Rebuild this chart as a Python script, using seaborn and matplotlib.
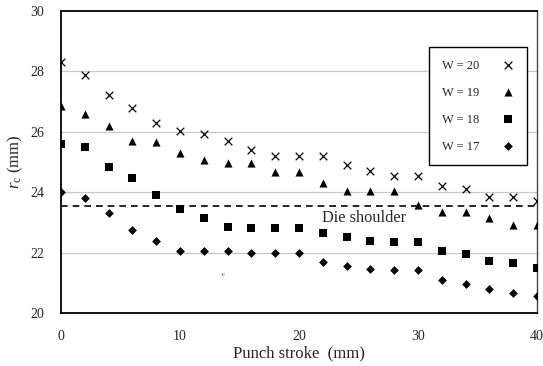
import matplotlib
matplotlib.use("Agg")
import matplotlib.pyplot as plt
import pandas as pd
import seaborn as sns

stroke = list(range(0, 42, 2))
labels = ["W = 20", "W = 19", "W = 18", "W = 17"]
w20 = [28.3, 27.88, 27.22, 26.79, 26.29, 26.03, 25.93, 25.7, 25.4, 25.2, 25.2,
       25.2, 24.9, 24.7, 24.54, 24.54, 24.2, 24.1, 23.84, 23.84, 23.7]
w19 = [26.85, 26.6, 26.2, 25.7, 25.66, 25.3, 25.07, 24.97, 24.97, 24.67, 24.67,
       24.3, 24.05, 24.05, 24.05, 23.58, 23.35, 23.35, 23.16, 22.9, 22.9]
w18 = [25.6, 25.5, 24.85, 24.47, 23.9, 23.44, 23.16, 22.86, 22.8, 22.8, 22.8,
       22.66, 22.5, 22.4, 22.34, 22.34, 22.05, 21.95, 21.72, 21.65, 21.5]
w17 = [24.0, 23.8, 23.3, 22.75, 22.4, 22.05, 22.05, 22.05, 22.0, 22.0, 22.0,
       21.68, 21.56, 21.45, 21.41, 21.41, 21.1, 20.97, 20.8, 20.67, 20.55]
die_shoulder = 23.55

sns.set_style("white")
plt.rcParams['font.family'] = ['Liberation Serif', 'DejaVu Serif']
plt.rcParams['mathtext.fontset'] = 'custom'
plt.rcParams['mathtext.it'] = 'Liberation Serif:italic'
plt.rcParams['mathtext.rm'] = 'Liberation Serif'

frames = []
for lab, vals in zip(labels, [w20, w19, w18, w17]):
    frames.append(pd.DataFrame({"stroke": stroke, "rc": vals, "W": lab}))
data = pd.concat(frames, ignore_index=True)

fig = plt.figure(figsize=(5.43, 3.66), dpi=100)
ax = fig.add_axes([0.1123, 0.1448, 0.8767, 0.8252])

ax.axhline(die_shoulder, color="black", linestyle=(0, (4, 3)), linewidth=1.2, zorder=1)
for yv in [22, 24, 26, 28]:
    ax.axhline(yv, color="#c8c8c8", linewidth=0.9, zorder=0)

markers = {"W = 20": "x", "W = 19": "^", "W = 18": "s", "W = 17": "D"}
sizes = {"W = 20": 30, "W = 19": 34, "W = 18": 34, "W = 17": 20}
for lab in labels:
    sub = data[data["W"] == lab]
    sns.scatterplot(data=sub, x="stroke", y="rc", marker=markers[lab], s=sizes[lab],
                    color="black", linewidth=0.9 if lab == "W = 20" else 0,
                    label=lab, ax=ax, zorder=3)

ax.text(25.5, 23.15, "Die shoulder", fontsize=11.8, ha="center", va="center")
ax.text(13.6, 21.26, "c", fontsize=5, ha="center", va="center")

ax.set_xlim(0, 40)
ax.set_ylim(20, 30)
ax.set_xticks([0, 10, 20, 30, 40])
ax.set_xticks([5, 15, 25, 35], minor=True)
ax.set_yticks([20, 22, 24, 26, 28, 30])
ax.tick_params(axis="x", which="both", direction="in", length=3, width=0.6,
               color="#888888", pad=12, labelsize=10)
ax.tick_params(axis="y", length=0, pad=12, labelsize=10)

for side in ["left", "bottom", "top"]:
    ax.spines[side].set_color("black")
    ax.spines[side].set_linewidth(1.3)
ax.spines["right"].set_color("#444444")
ax.spines["right"].set_linewidth(1.0)

ax.set_xlabel("Punch stroke  (mm)", fontsize=12, labelpad=2)
ax.set_ylabel(r"$r_\mathrm{c}$ (mm)", fontsize=12, labelpad=4)

leg = ax.legend(loc="upper right", bbox_to_anchor=(0.978, 0.88), markerfirst=False,
                frameon=True, fancybox=False, edgecolor="black", fontsize=9,
                labelspacing=1.2, handlelength=1.0, handletextpad=1.8,
                borderpad=1.0, borderaxespad=0, framealpha=1)
leg.get_frame().set_linewidth(1.0)

fig.savefig("out.png", dpi=100)
